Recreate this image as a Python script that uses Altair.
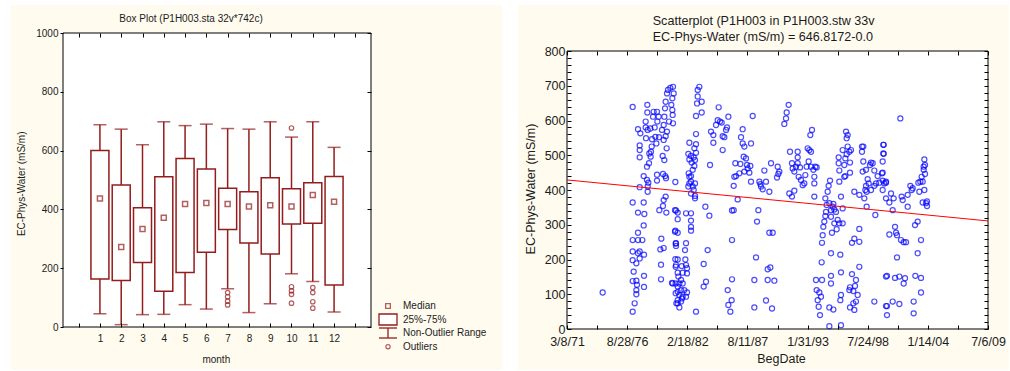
import altair as alt
import pandas as pd

FONT = "Liberation Sans"
INK = "#1c1c1c"
BOX_RED = "#931c1c"
BLUE = "#0000ff"
LINE_RED = "#ff0000"
CREAM = "#fffbef"

# ---------------- Box plot data (EC-Phys-Water by month) ----------------
months = [1, 2, 3, 4, 5, 6, 7, 8, 9, 10, 11, 12]
whisker_low = [45, 8, 42, 43, 76, 61, 130, 49, 79, 181, 155, 51]
box_q1 = [163, 158, 219, 122, 185, 254, 332, 286, 248, 350, 353, 143]
box_median = [437, 272, 333, 372, 418, 422, 418, 410, 414, 410, 449, 426]
box_q3 = [600, 483, 406, 511, 573, 537, 472, 460, 508, 470, 491, 512]
whisker_high = [688, 673, 620, 698, 685, 690, 675, 673, 698, 646, 698, 611]
outlier_month = [7, 7, 7, 7, 10, 10, 10, 10, 10, 11, 11, 11, 11]
outlier_value = [117, 103, 88, 75, 677, 137, 123, 111, 81, 134, 117, 86, 64]

month_tick_values = list(range(0, 14))
box_ec_ticks = [0, 200, 400, 600, 800, 1000]
legend_labels = ["Median", "25%-75%", "Non-Outlier Range", "Outliers"]

# ---------------- Scatterplot data (BegDate serial day, EC) ----------------
scatter_points = [
    (27186, 105),
    (28184, 639), (28184, 364), (28184, 256), (28184, 223), (28184, 198), (28217, 165), (28184, 138), (28184, 50),
    (28250, 74), (28306, 100), (28306, 112), (28328, 127), (28306, 139), (28306, 189), (28361, 218), (28361, 256), (28361, 277),
    (28417, 223), (28417, 203), (28361, 335),
    (28550, 364), (28572, 331), (28550, 298), (28505, 256), (28561, 214), (28561, 153), (28561, 121),
    (28417, 408), (28417, 494), (28417, 515), (28417, 528), (28361, 575), (28439, 563), (28616, 597), (28616, 580), (28671, 623), (28671, 645),
    (28550, 440), (28660, 429), (28683, 410), (28683, 395), (28705, 421), (28660, 467), (28727, 477), (28782, 496), (28793, 510), (28816, 525), (28738, 505), (28827, 546),
    (28627, 549), (28683, 573), (28771, 577), (28915, 580), (28860, 611), (28882, 625), (28993, 625), (29048, 611), (29004, 597), (28938, 553), (28971, 534), (29059, 552),
    (29159, 573), (29215, 587), (29237, 611), (29259, 635), (29281, 654), (29326, 678), (29359, 688), (29436, 694), (29525, 697), (29547, 678), (29503, 664), (29469, 645), (29503, 630), (29514, 616), (29392, 597), (29525, 592),
    (29326, 568), (29281, 555), (29215, 544), (29314, 520), (29181, 498), (29237, 486), (29270, 440), (29192, 446), (29292, 434), (28993, 444), (28993, 427),
    (29281, 381), (29215, 371), (29070, 342), (29192, 354), (29303, 335), (29137, 260), (29104, 229), (29215, 233), (29126, 185), (29126, 143), (29492, 133),
    (29603, 423), (29592, 342), (29592, 280), (29614, 246), (29603, 201), (29614, 179), (29614, 131), (29614, 103), (29636, 74),
    (29625, 341), (29681, 335), (29681, 316), (29603, 283), (29681, 277), (29625, 247), (29625, 239), (29958, 247), (29925, 227), (29681, 200), (29936, 200),
    (29625, 184), (29814, 181), (29958, 184), (29681, 162), (29847, 162), (29991, 175), (29991, 160), (29514, 131), (29703, 151), (29792, 141),
    (29736, 131), (29681, 122), (29847, 131), (29792, 112), (29681, 107), (29902, 112), (29736, 98), (29847, 93), (29958, 93), (29681, 83),
    (29792, 79), (29681, 74), (29736, 62), (29991, 105), (29825, 88),
    (29958, 333), (30124, 333), (30124, 312), (30124, 294), (30124, 283), (30035, 410), (30069, 419), (30069, 438), (30047, 448), (30124, 440),
    (30180, 458), (30235, 469), (30257, 486), (30290, 507), (30235, 520), (30290, 532), (30213, 494), (30069, 536), (30035, 504), (30069, 488),
    (30124, 498), (30146, 479), (30124, 424), (30180, 410), (30213, 400), (30257, 383), (30257, 376), (30124, 390), (30257, 419), (30290, 561),
    (30290, 613), (30324, 649), (30346, 669), (30401, 697), (30346, 688), (30479, 654), (30479, 623), (30290, 50), (30678, 227), (30545, 187),
    (30623, 136), (30545, 122), (30601, 352), (30734, 326), (30756, 472),
    (30789, 568), (30867, 558), (30867, 536), (30956, 587), (31011, 601), (31044, 638), (31088, 597), (31144, 594), (31177, 555), (31233, 552),
    (31288, 573), (31321, 580), (31366, 611), (31177, 515), (31487, 341), (31543, 412), (31565, 438), (31598, 477), (31487, 256), (31487, 143), (31543, 342),
    (31344, 112), (31366, 69), (31432, 50), (31476, 83),
    (31787, 552), (31842, 575), (31842, 534), (31898, 525), (31875, 496), (31953, 491), (31986, 472), (32009, 462), (31898, 453), (31731, 448),
    (31621, 440), (31765, 475), (32064, 450), (32097, 469), (32119, 424), (31676, 373), (32175, 613), (32119, 534), (32363, 342), (32319, 309),
    (32286, 206), (32230, 141), (32230, 62), (32397, 424), (32452, 410), (32430, 417), (32507, 402), (32563, 456), (32618, 424), (32729, 395),
    (32785, 477), (32840, 277), (32729, 277), (32674, 141), (32674, 172), (32762, 177), (32618, 82), (32818, 59), (32895, 139), (33006, 467),
    (33028, 446), (32984, 436),
    (33061, 453),
    (33227, 590), (33283, 606), (33305, 623), (33371, 645), (33416, 510), (33482, 477), (33393, 390), (33482, 381), (33560, 398), (33504, 462),
    (33560, 453), (33615, 467), (33671, 510), (33671, 494), (33671, 477), (33748, 465), (33704, 438), (33781, 429), (33837, 414), (33892, 419),
    (33925, 443), (33970, 467), (34003, 520), (34059, 515), (34114, 510), (34036, 482), (34092, 558), (34147, 573), (34114, 467), (34192, 458),
    (34225, 438), (34225, 419), (34258, 467), (34302, 465), (34225, 381),
    (34480, 248), (34502, 270), (34524, 294), (34557, 309), (34591, 325), (34613, 337), (34635, 357), (34591, 376), (34668, 395), (34701, 412),
    (34746, 427), (34724, 362), (34779, 342), (34834, 352), (34857, 360), (34890, 344), (34945, 337), (34779, 323), (34812, 277), (35001, 314),
    (34967, 287), (34890, 304), (35056, 304), (35167, 304), (35167, 347), (35111, 381), (34779, 218), (35089, 214), (34469, 192), (34280, 141),
    (34480, 141), (34302, 112), (34391, 105), (34446, 93), (34336, 83), (34369, 64), (34413, 40), (34724, 62), (34857, 56), (34779, 131),
    (34779, 153), (34724, 8), (35111, 11), (35111, 163), (35111, 98), (35089, 83),
    (35034, 494), (35034, 477), (35056, 456), (35056, 424), (35167, 515), (35222, 472), (35222, 438), (35279, 568), (35300, 549), (35333, 558),
    (35333, 525), (35389, 510), (35411, 450), (35444, 515), (35256, 491), (35300, 503), (35411, 479), (35256, 440),
    (35477, 248), (35555, 260), (35721, 251), (35721, 288), (35721, 179), (35477, 158), (35610, 141), (35577, 124), (35411, 120), (35389, 112),
    (35522, 109), (35666, 98), (35610, 79), (35522, 74), (35411, 62), (35555, 55), (35555, 395), (35721, 386), (35810, 525), (35854, 525),
    (35810, 510), (35854, 482), (35832, 453), (35943, 458), (35921, 400), (35887, 376), (35965, 352), (35943, 412), (35998, 431), (36076, 472),
    (36109, 479), (36165, 477), (36220, 456), (36220, 412), (36276, 419), (36253, 328), (36220, 79), (35965, 395), (36032, 419), (36109, 400),
    (36331, 440), (36386, 421), (36475, 448), (36519, 530), (36519, 505), (36608, 421), (36608, 151), (36608, 66),
    (36531, 530), (36531, 504), (36497, 482), (36497, 450), (36497, 427), (36553, 419), (36608, 424), (36497, 400), (36608, 376), (36775, 390),
    (36719, 364), (36863, 376), (36830, 342),
    (36908, 294), (36719, 272), (36941, 277), (36974, 270), (37107, 256), (37196, 250), (37273, 250), (36974, 206), (36642, 153), (36908, 147),
    (37052, 151), (37240, 146), (37196, 131), (36642, 66), (36830, 79), (37052, 72), (36642, 40),
    (37085, 606),
    (37129, 381), (37163, 371), (37329, 352), (37329, 386), (37418, 412), (37495, 405), (37462, 400), (37573, 299), (37661, 309), (37772, 256),
    (37661, 218), (37584, 153), (37772, 147), (37772, 105), (37528, 79), (37528, 45),
    (37684, 421), (37750, 424), (37717, 395), (37828, 424), (37794, 438), (37861, 458), (37861, 467), (37883, 488), (37905, 472), (37905, 446),
    (37883, 400), (37828, 364), (37938, 362), (37972, 367), (37972, 354),
]
beg_dates = [p[0] for p in scatter_points]
ec_values = [p[1] for p in scatter_points]

date_tick_values = [26000, 28000, 30000, 32000, 34000, 36000, 38000, 40000]
date_tick_labels = ["3/8/71", "8/28/76", "2/18/82", "8/11/87", "1/31/93", "7/24/98", "1/14/04", "7/6/09"]
date_minor_ticks = list(range(26000, 40001, 1000))
scatter_ec_ticks = list(range(0, 801, 20))
reg_dates = [26000, 40000]
reg_values = [429, 311]

# ---------------- helpers ----------------
one = pd.DataFrame({"k": [0]})


def deco_rect(x, x2, y, y2, **kw):
    return alt.Chart(one).mark_rect(**kw).encode(
        x=alt.value(x), x2=alt.value(x2), y=alt.value(y), y2=alt.value(y2))


def text_at(txt, x, y, size, align="left", angle=0):
    mk = dict(text=txt, font=FONT, fontSize=size, color=INK, align=align, baseline="middle")
    if angle:
        mk["angle"] = angle
    return alt.Chart(one).mark_text(**mk).encode(x=alt.value(x), y=alt.value(y))


def make_axis(orient, values, labels=True, label_expr=None, fmt=None, tick=4, offset=None,
              size=10, pad=2):
    kw = dict(orient=orient, values=values, title=None, domain=False, grid=False,
              ticks=True, tickSize=tick, tickColor="#000000", tickWidth=1,
              labels=labels, zindex=1, labelOverlap=False, labelFlush=False,
              offset=(-tick if offset is None else offset))
    if labels:
        kw.update(labelFont=FONT, labelFontSize=size, labelColor=INK, labelPadding=pad)
        if label_expr:
            kw["labelExpr"] = label_expr
        if fmt:
            kw["format"] = fmt
    return alt.Axis(**kw)


# ---------------- left: box plot ----------------
# Both panels share their origin row; the box plot's frame starts 18 px higher.
W1 = 308
TOP1 = -18          # top of the box plot frame relative to the shared origin
H1 = 276            # bottom of the box plot frame
xs1 = alt.Scale(domain=[-0.5, 13.5], nice=False, zero=False)
ys1 = alt.Scale(domain=[0, 1000], nice=False, zero=False, range=[H1, TOP1])

box_df = pd.DataFrame(dict(month=months, low=whisker_low, q1=box_q1, med=box_median,
                           q3=box_q3, high=whisker_high))
out_df = pd.DataFrame(dict(month=outlier_month, value=outlier_value))

bx = alt.X("month:Q", scale=xs1, axis=None)


def by(f):
    return alt.Y(f, type="quantitative", scale=ys1, axis=None)


whiskers = alt.Chart(box_df).mark_rule(color=BOX_RED, strokeWidth=1.5).encode(
    x=bx, y=by("low"), y2="high:Q")
boxes = alt.Chart(box_df).mark_bar(size=18, fill="white", stroke=BOX_RED, strokeWidth=1.5).encode(
    x=bx, y=by("q1"), y2="q3:Q")
cap_low = alt.Chart(box_df).mark_tick(orient="horizontal", size=13, thickness=1.5, color=BOX_RED).encode(
    x=bx, y=by("low"))
cap_high = alt.Chart(box_df).mark_tick(orient="horizontal", size=13, thickness=1.5, color=BOX_RED).encode(
    x=bx, y=by("high"))
medians = alt.Chart(box_df).mark_square(size=25, filled=False, color=BOX_RED, strokeWidth=1.5).encode(
    x=bx, y=by("med"))
outliers = alt.Chart(out_df).mark_point(shape="circle", size=20, filled=False, color=BOX_RED, strokeWidth=1.2).encode(
    x=bx, y=by("value"))

month_expr = "datum.value >= %d && datum.value <= %d ? datum.value : ''" % (months[0], months[-1])
axes1_main = alt.Chart(box_df).mark_point(opacity=0).encode(
    x=alt.X("month:Q", scale=xs1, axis=make_axis("bottom", month_tick_values, label_expr=month_expr, size=10, pad=6)),
    y=alt.Y("med:Q", scale=ys1, axis=make_axis("left", box_ec_ticks, fmt="d", tick=3, offset=0, size=10, pad=2)))
axes1_mirror = alt.Chart(box_df).mark_point(opacity=0).encode(
    x=alt.X("month:Q", scale=xs1, axis=make_axis("top", month_tick_values, labels=False, offset=-TOP1 - 4)),
    y=alt.Y("med:Q", scale=ys1, axis=make_axis("right", box_ec_ticks, labels=False)))

LX = 325  # legend symbol centre (px from plot left)
D = TOP1  # vertical shift of legend positions
legend1 = [
    alt.Chart(one).mark_square(size=22, filled=False, color=BOX_RED, strokeWidth=1.3).encode(
        x=alt.value(LX), y=alt.value(273 + D)),
    deco_rect(LX - 9, LX + 9, 281 + D, 292 + D, fill="white", stroke=BOX_RED, strokeWidth=1.3),
    alt.Chart(one).mark_rule(color=BOX_RED, strokeWidth=1.3).encode(
        x=alt.value(LX - 9), x2=alt.value(LX + 9), y=alt.value(295 + D)),
    alt.Chart(one).mark_rule(color=BOX_RED, strokeWidth=1.3).encode(
        x=alt.value(LX), y=alt.value(295 + D), y2=alt.value(305 + D)),
    alt.Chart(one).mark_rule(color=BOX_RED, strokeWidth=1.3).encode(
        x=alt.value(LX - 9), x2=alt.value(LX + 9), y=alt.value(305 + D)),
    alt.Chart(one).mark_point(shape="circle", size=18, filled=False, color=BOX_RED, strokeWidth=1.2).encode(
        x=alt.value(LX), y=alt.value(313.7 + D)),
    text_at(legend_labels[0], 340, 273 + D, 10),
    text_at(legend_labels[1], 340, 286.7 + D, 10),
    text_at(legend_labels[2], 340, 300 + D, 10),
    text_at(legend_labels[3], 340, 313.7 + D, 10),
]

left = alt.layer(
    deco_rect(-52.7, 439.3, -46, 319, fill=CREAM),
    deco_rect(0, W1, TOP1, H1, fill="white", stroke="#000000", strokeWidth=1),
    whiskers, boxes, cap_low, cap_high, medians, outliers,
    axes1_main, axes1_mirror,
    *legend1,
    text_at("Box Plot (P1H003.sta 32v*742c)", 56.3, -13.7 + D, 10),
    text_at("EC-Phys-Water (mS/m)", -40.7, 150.8 + D, 10, align="center", angle=270),
    text_at("month", 153.3, 327 + D, 10, align="center"),
).resolve_axis(x="independent", y="independent").properties(width=W1, height=H1)

# ---------------- right: scatterplot ----------------
W2, H2 = 421, 278
xs2 = alt.Scale(domain=[26000, 40000], nice=False, zero=False)
ys2 = alt.Scale(domain=[0, 800], nice=False, zero=False)

sc_df = pd.DataFrame({"BegDate": beg_dates, "EC": ec_values})
reg_df = pd.DataFrame({"BegDate": reg_dates, "EC": reg_values})

points = alt.Chart(sc_df).mark_point(shape="circle", size=26, filled=False, color=BLUE, strokeWidth=1.2).encode(
    x=alt.X("BegDate:Q", scale=xs2, axis=None),
    y=alt.Y("EC:Q", scale=ys2, axis=None))
reg_line = alt.Chart(reg_df).mark_line(color=LINE_RED, strokeWidth=1).encode(
    x=alt.X("BegDate:Q", scale=xs2, axis=None),
    y=alt.Y("EC:Q", scale=ys2, axis=None))

date_expr = "''"
for v, lab in reversed(list(zip(date_tick_values, date_tick_labels))):
    date_expr = "datum.value == %d ? '%s' : (%s)" % (v, lab, date_expr)
ec_expr = "datum.value % 100 == 0 ? datum.value : ''"

axes2_main = alt.Chart(reg_df).mark_point(opacity=0).encode(
    x=alt.X("BegDate:Q", scale=xs2, axis=make_axis("bottom", date_minor_ticks, label_expr=date_expr, size=12.5, pad=6)),
    y=alt.Y("EC:Q", scale=ys2, axis=make_axis("left", scatter_ec_ticks, label_expr=ec_expr, size=12.5, pad=2)))
axes2_mirror = alt.Chart(reg_df).mark_point(opacity=0).encode(
    x=alt.X("BegDate:Q", scale=xs2, axis=make_axis("top", date_minor_ticks, labels=False)),
    y=alt.Y("EC:Q", scale=ys2, axis=make_axis("right", scatter_ec_ticks, labels=False)))

right = alt.layer(
    deco_rect(-49, 442, -46, 319, fill=CREAM),
    deco_rect(0, W2, 0, H2, fill="white", stroke="#000000", strokeWidth=1),
    points, reg_line,
    axes2_main, axes2_mirror,
    text_at("Scatterplot (P1H003 in P1H003.stw 33v", 85.7, -30.3, 12.6),
    text_at("EC-Phys-Water (mS/m) = 646.8172-0.0", 85.7, -14.3, 12.6),
    text_at("EC-Phys-Water (mS/m)", -36, 138, 12.5, align="center", angle=270),
    text_at("BegDate", 214.5, 308, 12.5, align="center"),
).resolve_axis(x="independent", y="independent").properties(width=W2, height=H2)

chart = alt.hconcat(left, right, spacing=15).properties(
    padding={"left": 10, "top": 5, "right": 0, "bottom": 0},
    background="white",
).configure_view(strokeOpacity=0)

chart.save("out.html", embed_options={"renderer": "svg", "actions": False})
